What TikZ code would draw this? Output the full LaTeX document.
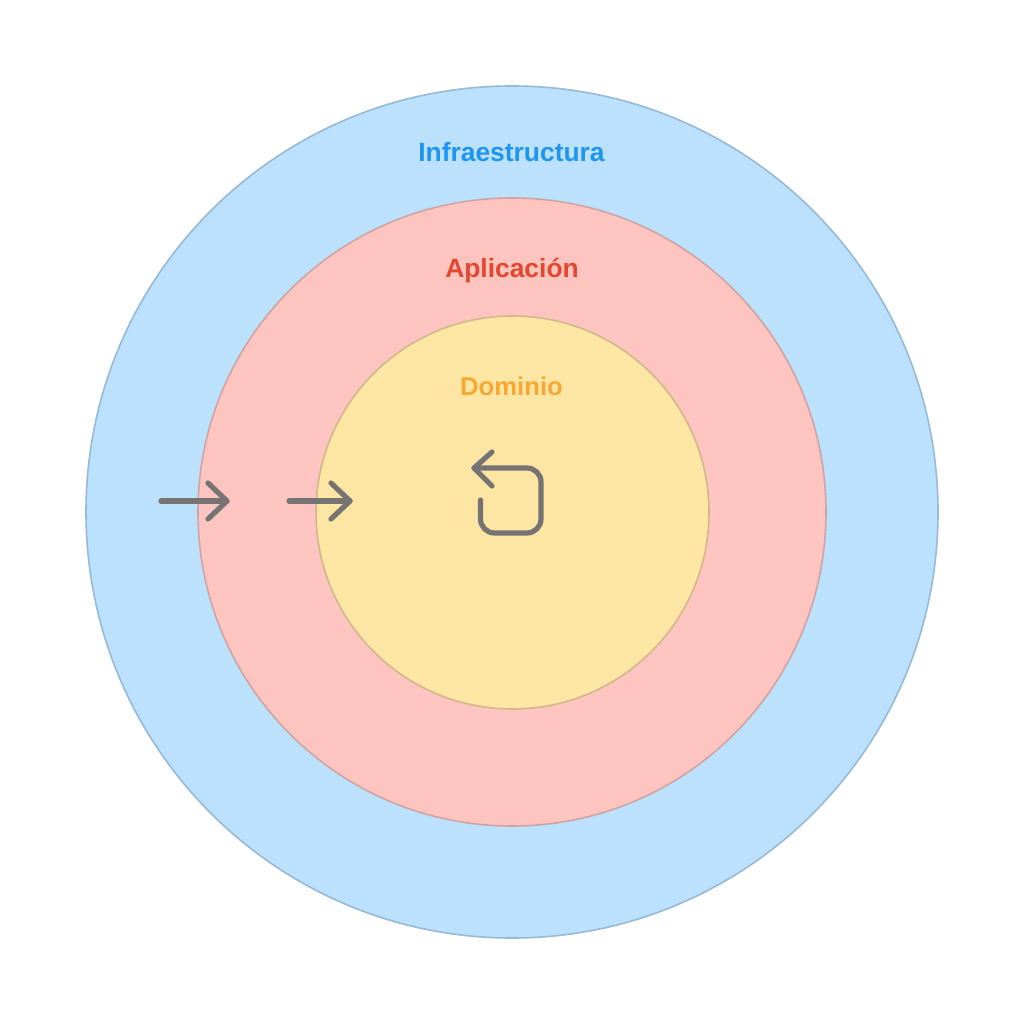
\documentclass[tikz,border=0pt]{standalone}
\usepackage{fontspec}
\setmainfont{Liberation Sans}
\definecolor{blueF}{HTML}{BBE1FD}
\definecolor{blueD}{HTML}{97B9D6}
\definecolor{redF}{HTML}{FEC5C0}
\definecolor{redD}{HTML}{D0A3A3}
\definecolor{yelF}{HTML}{FDE5A3}
\definecolor{yelD}{HTML}{CFB88C}
\definecolor{blueT}{HTML}{1E96F0}
\definecolor{redT}{HTML}{E4472E}
\definecolor{yelT}{HTML}{F7A833}
\definecolor{arrowC}{HTML}{767472}
\tikzset{
  ring/.style={circle,inner sep=0pt,outer sep=0pt,line width=1.6pt},
  lab/.style={font=\fontsize{26.4}{29}\selectfont\bfseries,inner sep=0pt,anchor=center},
  flow/.style={draw=arrowC,line width=5.2pt,line cap=round,line join=round}
}
\begin{document}
\begin{tikzpicture}[x=1pt,y=-1pt]
\useasboundingbox (0,0) rectangle (1024,1024);
\fill[white] (0,0) rectangle (1024,1024);
\node[ring,draw=blueD,fill=blueF,minimum size=852pt] (outer) at (512,512) {};
\node[ring,draw=redD,fill=redF,minimum size=628pt] (middle) at (512,512) {};
\node[ring,draw=yelD,fill=yelF,minimum size=393pt] (inner) at (512.5,512.5) {};
\node[lab,text=blueT] (infra) at (511.5,152.5) {Infraestructura};
\node[lab,text=redT] (apli) at (512,271) {Aplicación};
\node[lab,text=yelT,font=\fontsize{25.7}{29}\selectfont\bfseries] (domi) at (511.5,386.5) {Dominio};
% first arrow
\coordinate (a1s) at (161,501);
\coordinate (a1t) at (227,501);
\coordinate (a1u) at (208,483);
\coordinate (a1d) at (208,519);
\draw[flow] (a1s) -- (a1t);
\draw[flow] (a1u) -- (a1t) -- (a1d);
% second arrow
\coordinate (a2s) at (289,501);
\coordinate (a2t) at (350,501);
\coordinate (a2u) at (331,483);
\coordinate (a2d) at (331,519);
\draw[flow] (a2s) -- (a2t);
\draw[flow] (a2u) -- (a2t) -- (a2d);
% loop arrow
\coordinate (lt) at (474,468);
\coordinate (lu) at (492,452);
\coordinate (ld) at (492,486);
\coordinate (lc1) at (541,468);
\coordinate (lc2) at (541,533);
\coordinate (lc3) at (480.5,533);
\coordinate (le) at (480.5,500);
\draw[flow,rounded corners=14pt] (lt) -- (lc1) -- (lc2) -- (lc3) -- (le);
\draw[flow] (lu) -- (lt) -- (ld);
\end{tikzpicture}
\end{document}
